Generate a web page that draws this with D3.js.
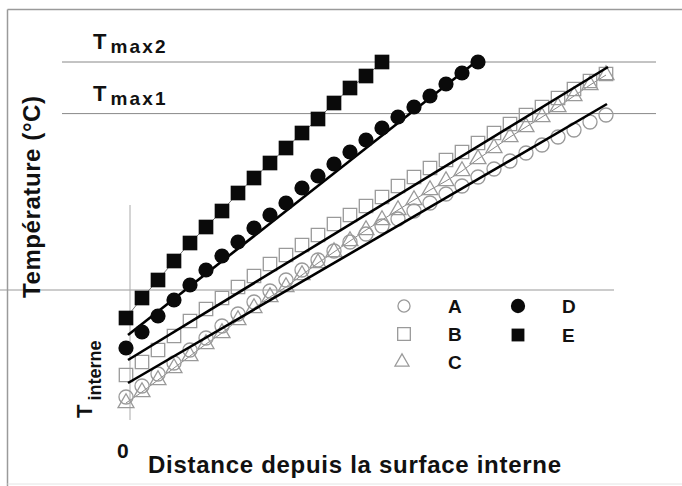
<!DOCTYPE html>
<html>
<head>
<meta charset="utf-8">
<script src="https://cdn.jsdelivr.net/npm/d3@7"></script>
<style>
  html, body { margin: 0; padding: 0; background: #fff; }
  svg { display: block; font-family: "Liberation Sans", Arial, Helvetica, sans-serif; }
</style>
</head>
<body>
<svg id="chart" width="682" height="486"></svg>
<script>
// ---- Data (distance index, temperature in arbitrary units) ----
const seriesNames = ["A", "B", "C", "D", "E"];
const seriesA = [10.75, 13.5, 16.5, 19.25, 22.5, 25.5, 28.5, 31.5, 34.5, 37.25, 40, 42.5, 45, 47.25, 49.5, 51.5, 53.5, 55.25, 57.25, 59.25, 61.5, 63.5, 65.75, 67.75, 69.75, 71.75, 73.75, 75.75, 77.5, 79.5, 81.25];
const seriesB = [16.25, 19.5, 22.5, 26, 29.75, 32.75, 35.5, 38.25, 41, 44, 46.25, 48.75, 51.25, 54, 56.25, 58.5, 60.75, 63.5, 65.75, 68, 70, 72, 74.25, 76.75, 79, 81.25, 83.25, 85.5, 87.75, 89.75, 91.5];
const seriesC = [9.25, 12, 15, 18, 21, 24, 26.75, 30, 33, 35.75, 38.25, 41.25, 44.25, 47, 49.75, 52.5, 55, 57.5, 60, 62.5, 64.75, 67.25, 70.25, 73, 75.75, 78.25, 80.75, 83.25, 86, 88.75, 91.25];
const seriesD = [23, 27, 31, 35, 38.75, 42.5, 46, 49.5, 53, 56.25, 59.25, 63, 66, 69, 72, 75, 78, 80.75, 83.25, 86, 89, 91.75, 94.5];
const seriesE = [30.5, 35.5, 40, 44.75, 49.25, 53.25, 57.25, 61.75, 65.5, 69.25, 73, 76.75, 80.25, 84.25, 88, 91, 94.5];
// straight fitted lines: [x0, y0, x1, y1]
const fitLines = [
  [0.125, 26.25, 22.25, 95.75],
  [0.125, 20, 30.125, 93.25],
  [0.125, 14.25, 30.06, 84]
];
const tmaxLevels = [94.5, 81.6];
const tmaxLabels = ["max2", "max1"];
const axisLevel = 37.5;      // horizontal reference line
const axisXPos = 0.25;       // vertical reference line
const xLabel = "Distance depuis la surface interne";
const yLabel = "Température (°C)";

// ---- Scales ----
const x = d3.scaleLinear().domain([0, 30]).range([126, 606]);
const y = d3.scaleLinear().domain([0, 100]).range([440, 40]);

const svg = d3.select("#chart");
const gray = "#9a9a9a";

// frame
svg.append("line").attr("x1", 7.5).attr("y1", 9.5).attr("x2", 682).attr("y2", 9.5)
  .attr("stroke", "#9a9a9a").attr("stroke-width", 1.5);
svg.append("line").attr("x1", 7.5).attr("y1", 9.5).attr("x2", 7.5).attr("y2", 486)
  .attr("stroke", "#9a9a9a").attr("stroke-width", 1.5);
svg.append("line").attr("x1", 7.5).attr("y1", 484).attr("x2", 682).attr("y2", 484)
  .attr("stroke", "#e4e4e4").attr("stroke-width", 1);

// Tmax lines
svg.selectAll(".tmax").data(tmaxLevels).enter().append("line")
  .attr("x1", x(-4)).attr("x2", x(33.125))
  .attr("y1", d => y(d)).attr("y2", d => y(d))
  .attr("stroke", "#888").attr("stroke-width", 1);

// reference axes
svg.append("line").attr("x1", x(-7.9)).attr("x2", x(30.5))
  .attr("y1", y(axisLevel)).attr("y2", y(axisLevel))
  .attr("stroke", "#999").attr("stroke-width", 1.2);
svg.append("line").attr("x1", x(axisXPos)).attr("x2", x(axisXPos))
  .attr("y1", y(58.75)).attr("y2", y(5))
  .attr("stroke", "#aaa").attr("stroke-width", 1);

// Tmax labels
tmaxLevels.forEach((lv, i) => {
  const t = svg.append("text")
    .attr("x", 93).attr("y", y(lv) - 13)
    .attr("font-size", 22).attr("font-weight", "bold").attr("fill", "#111");
  t.append("tspan").text("T");
  t.append("tspan").attr("dx", 4).attr("dy", 4)
    .attr("font-size", 19).attr("letter-spacing", 2.2).text(tmaxLabels[i]);
});

const line = d3.line().x((d, i) => x(i)).y(d => y(d));

// thin connecting lines for E and C
svg.append("path").datum(seriesE).attr("d", line)
  .attr("fill", "none").attr("stroke", "#777").attr("stroke-width", 1);
svg.append("path").datum(seriesC).attr("d", line)
  .attr("fill", "none").attr("stroke", "#888").attr("stroke-width", 1);

// open markers
const symCircle = d3.symbol().type(d3.symbolCircle).size(155);
const symSquare = d3.symbol().type(d3.symbolSquare).size(180);
const symTri = d3.symbol().type(d3.symbolTriangle).size(110);
const symSquareFilled = d3.symbol().type(d3.symbolSquare).size(215);

svg.selectAll(".a").data(seriesA).enter().append("path")
  .attr("d", symCircle).attr("transform", (d, i) => `translate(${x(i)},${y(d)})`)
  .attr("fill", "none").attr("stroke", gray).attr("stroke-width", 1.3);
svg.selectAll(".b").data(seriesB).enter().append("path")
  .attr("d", symSquare).attr("transform", (d, i) => `translate(${x(i)},${y(d)})`)
  .attr("fill", "none").attr("stroke", gray).attr("stroke-width", 1.3);
svg.selectAll(".c").data(seriesC).enter().append("path")
  .attr("d", symTri).attr("transform", (d, i) => `translate(${x(i)},${y(d)})`)
  .attr("fill", "none").attr("stroke", gray).attr("stroke-width", 1.3);

// fitted thick lines
svg.selectAll(".fit").data(fitLines).enter().append("line")
  .attr("x1", d => x(d[0])).attr("y1", d => y(d[1]))
  .attr("x2", d => x(d[2])).attr("y2", d => y(d[3]))
  .attr("stroke", "#000").attr("stroke-width", 2.6);

// filled markers
svg.selectAll(".d").data(seriesD).enter().append("circle")
  .attr("cx", (d, i) => x(i)).attr("cy", d => y(d)).attr("r", 7.6)
  .attr("fill", "#0a0a0a");
svg.selectAll(".e").data(seriesE).enter().append("path")
  .attr("d", symSquareFilled).attr("transform", (d, i) => `translate(${x(i)},${y(d)})`)
  .attr("fill", "#0a0a0a");

// legend
const legend = [
  {name: "A", sx: 404, sy: 306, col: 0},
  {name: "B", sx: 404, sy: 334, col: 0},
  {name: "C", sx: 402, sy: 362, col: 0},
  {name: "D", sx: 518, sy: 306, col: 1},
  {name: "E", sx: 518, sy: 335, col: 1}
];
const legSym = {
  A: d3.symbol().type(d3.symbolCircle).size(115),
  B: d3.symbol().type(d3.symbolSquare).size(160),
  C: d3.symbol().type(d3.symbolTriangle).size(85),
  D: d3.symbol().type(d3.symbolCircle).size(160),
  E: d3.symbol().type(d3.symbolSquare).size(165)
};
legend.forEach(l => {
  const filled = l.col === 1;
  svg.append("path").attr("d", legSym[l.name]())
    .attr("transform", `translate(${l.sx},${l.sy})`)
    .attr("fill", filled ? "#0a0a0a" : "none")
    .attr("stroke", filled ? "none" : gray).attr("stroke-width", 1.3);
  svg.append("text").attr("x", l.col === 0 ? 448 : 562).attr("y", l.sy + 7)
    .attr("font-size", 19).attr("font-weight", "bold").attr("fill", "#111").text(l.name);
});

// axis labels
svg.append("text").attr("x", 148).attr("y", 473)
  .attr("font-size", 24).attr("font-weight", "bold").attr("fill", "#111")
  .attr("textLength", 413).attr("lengthAdjust", "spacing").text(xLabel);
svg.append("text").attr("x", 117).attr("y", 458)
  .attr("font-size", 21).attr("font-weight", "bold").attr("fill", "#111").text("0");
svg.append("text").attr("transform", "translate(40,197) rotate(-90)")
  .attr("text-anchor", "middle").attr("font-size", 24).attr("font-weight", "bold")
  .attr("fill", "#111").attr("textLength", 202).attr("lengthAdjust", "spacing").text(yLabel);

// T interne
const ti = svg.append("text").attr("transform", "translate(92,418) rotate(-90)")
  .attr("font-size", 22).attr("font-weight", "bold").attr("fill", "#111");
ti.append("tspan").text("T");
ti.append("tspan").attr("dx", 4).attr("dy", 9).attr("font-size", 18).text("interne");
</script>
</body>
</html>
